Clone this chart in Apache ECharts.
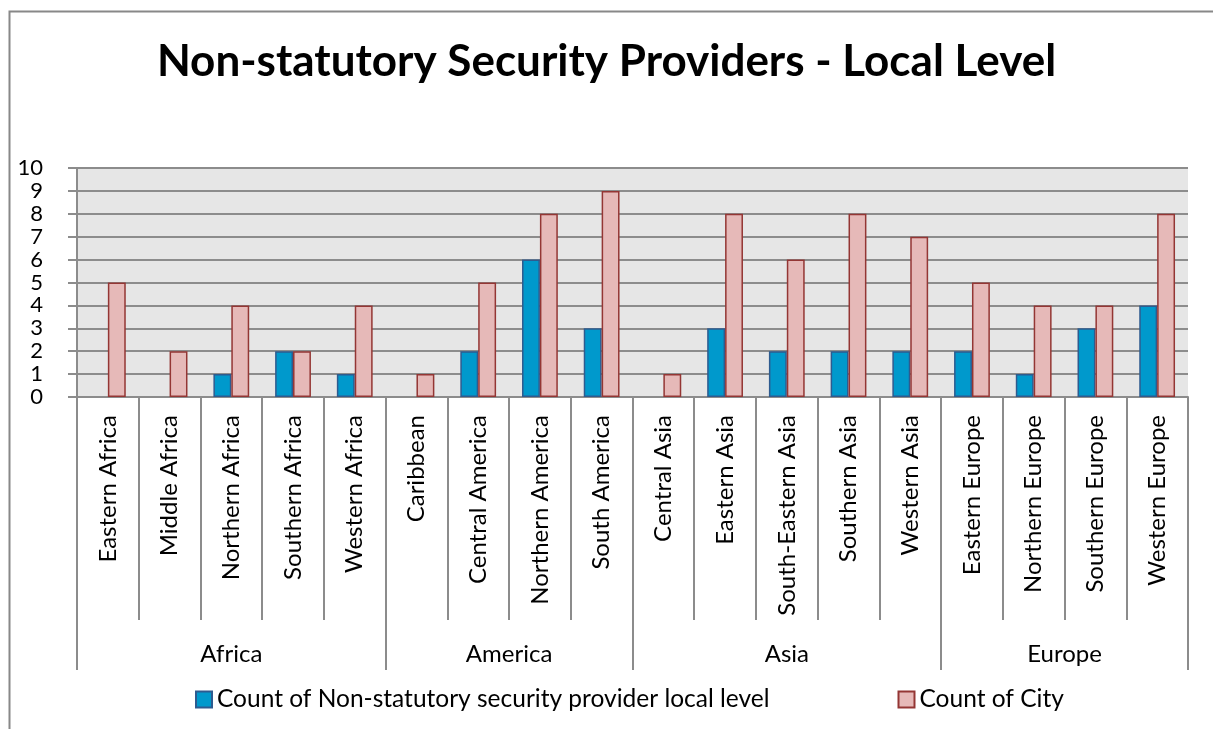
<!DOCTYPE html>
<html>
<head>
<meta charset="utf-8">
<script src="https://cdn.jsdelivr.net/npm/echarts@6/dist/echarts.min.js"></script>
<style>
  html, body { margin: 0; padding: 0; background: #fff; }
  #chart { width: 1213px; height: 729px; }
</style>
</head>
<body>
<div id="chart"></div>
<script>
// 分类（子区域）
const categories = [
  'Eastern Africa', 'Middle Africa', 'Northern Africa', 'Southern Africa', 'Western Africa',
  'Caribbean', 'Central America', 'Northern America', 'South America',
  'Central Asia', 'Eastern Asia', 'South-Eastern Asia', 'Southern Asia', 'Western Asia',
  'Eastern Europe', 'Northern Europe', 'Southern Europe', 'Western Europe'
];
// 大洲分组
const groups = ['Africa', 'America', 'Asia', 'Europe'];
const groupSizes = [5, 4, 5, 4];
// 系列数据
const providerCounts = [null, null, 1, 2, 1, null, 2, 6, 3, null, 3, 2, 2, 2, 2, 1, 3, 4];
const cityCounts = [5, 2, 4, 2, 4, 1, 5, 8, 9, 1, 8, 6, 8, 7, 5, 4, 4, 8];
const yTicks = [0, 1, 2, 3, 4, 5, 6, 7, 8, 9, 10];

// 分组边界与中心
const bounds = [0];
groupSizes.forEach(n => bounds.push(bounds[bounds.length - 1] + n));
const centers = groups.map((g, i) => (bounds[i] + bounds[i + 1]) / 2);

const font = 'Lato, "Open Sans", sans-serif';
const lineColor = '#8c8c8c';

const myChart = echarts.init(document.getElementById('chart'));
const options = {
  backgroundColor: '#fff',
  title: {
    text: 'Non-statutory Security Providers - Local Level',
    left: 'center',
    top: 35,
    textStyle: { fontFamily: font, fontSize: 44, fontWeight: 'bold', color: '#000' }
  },
  graphic: [{
    type: 'rect',
    left: 7,
    top: 9,
    shape: { width: 1300, height: 800 },
    style: { fill: 'none', stroke: '#888', lineWidth: 2 }
  }],
  legend: {
    left: 190,
    top: 682,
    itemGap: 128,
    itemWidth: 16,
    itemHeight: 16,
    icon: 'rect',
    textStyle: { fontFamily: font, fontSize: 24.5, color: '#000' }
  },
  grid: {
    left: 77,
    right: 25,
    top: 168,
    bottom: 332,
    show: true,
    backgroundColor: '#e6e6e6',
    borderWidth: 0
  },
  xAxis: [{
    type: 'category',
    data: categories,
    position: 'bottom',
    axisLine: { show: true, lineStyle: { color: lineColor, width: 2 } },
    axisTick: { show: true, interval: 0, length: 223, lineStyle: { color: lineColor, width: 2 } },
    axisLabel: {
      interval: 0,
      rotate: 90,
      margin: 18,
      fontFamily: font,
      fontSize: 24,
      color: '#000'
    }
  }, {
    type: 'value',
    min: 0,
    max: categories.length,
    position: 'bottom',
    axisLine: { show: false },
    splitLine: { show: false },
    axisTick: {
      show: true,
      customValues: bounds,
      length: 273,
      lineStyle: { color: lineColor, width: 2 }
    },
    axisLabel: {
      customValues: centers,
      margin: 245,
      fontFamily: font,
      fontSize: 24,
      color: '#000',
      formatter: v => groups[centers.indexOf(v)]
    }
  }],
  yAxis: {
    type: 'value',
    min: 0,
    max: 10,
    interval: 1,
    axisLine: { show: true, lineStyle: { color: lineColor, width: 2 } },
    axisTick: { show: true, length: 9, lineStyle: { color: lineColor, width: 2 } },
    splitLine: { show: true, lineStyle: { color: lineColor, width: 2 } },
    axisLabel: {
      margin: 34,
      fontFamily: font,
      fontSize: 22,
      color: '#000',
      showMinLabel: true,
      showMaxLabel: true,
      formatter: v => yTicks.includes(v) ? String(v) : ''
    }
  },
  series: [{
    name: 'Count of Non-statutory security provider local level',
    type: 'bar',
    data: providerCounts,
    barGap: '0%',
    barCategoryGap: '42%',
    itemStyle: { color: '#0099cc', borderColor: '#2e5b8f', borderWidth: 1.5 }
  }, {
    name: 'Count of City',
    type: 'bar',
    data: cityCounts,
    barGap: '0%',
    barCategoryGap: '42%',
    itemStyle: { color: '#e6b9b8', borderColor: '#943634', borderWidth: 1.5 }
  }]
};
myChart.setOption(options);
</script>
</body>
</html>
